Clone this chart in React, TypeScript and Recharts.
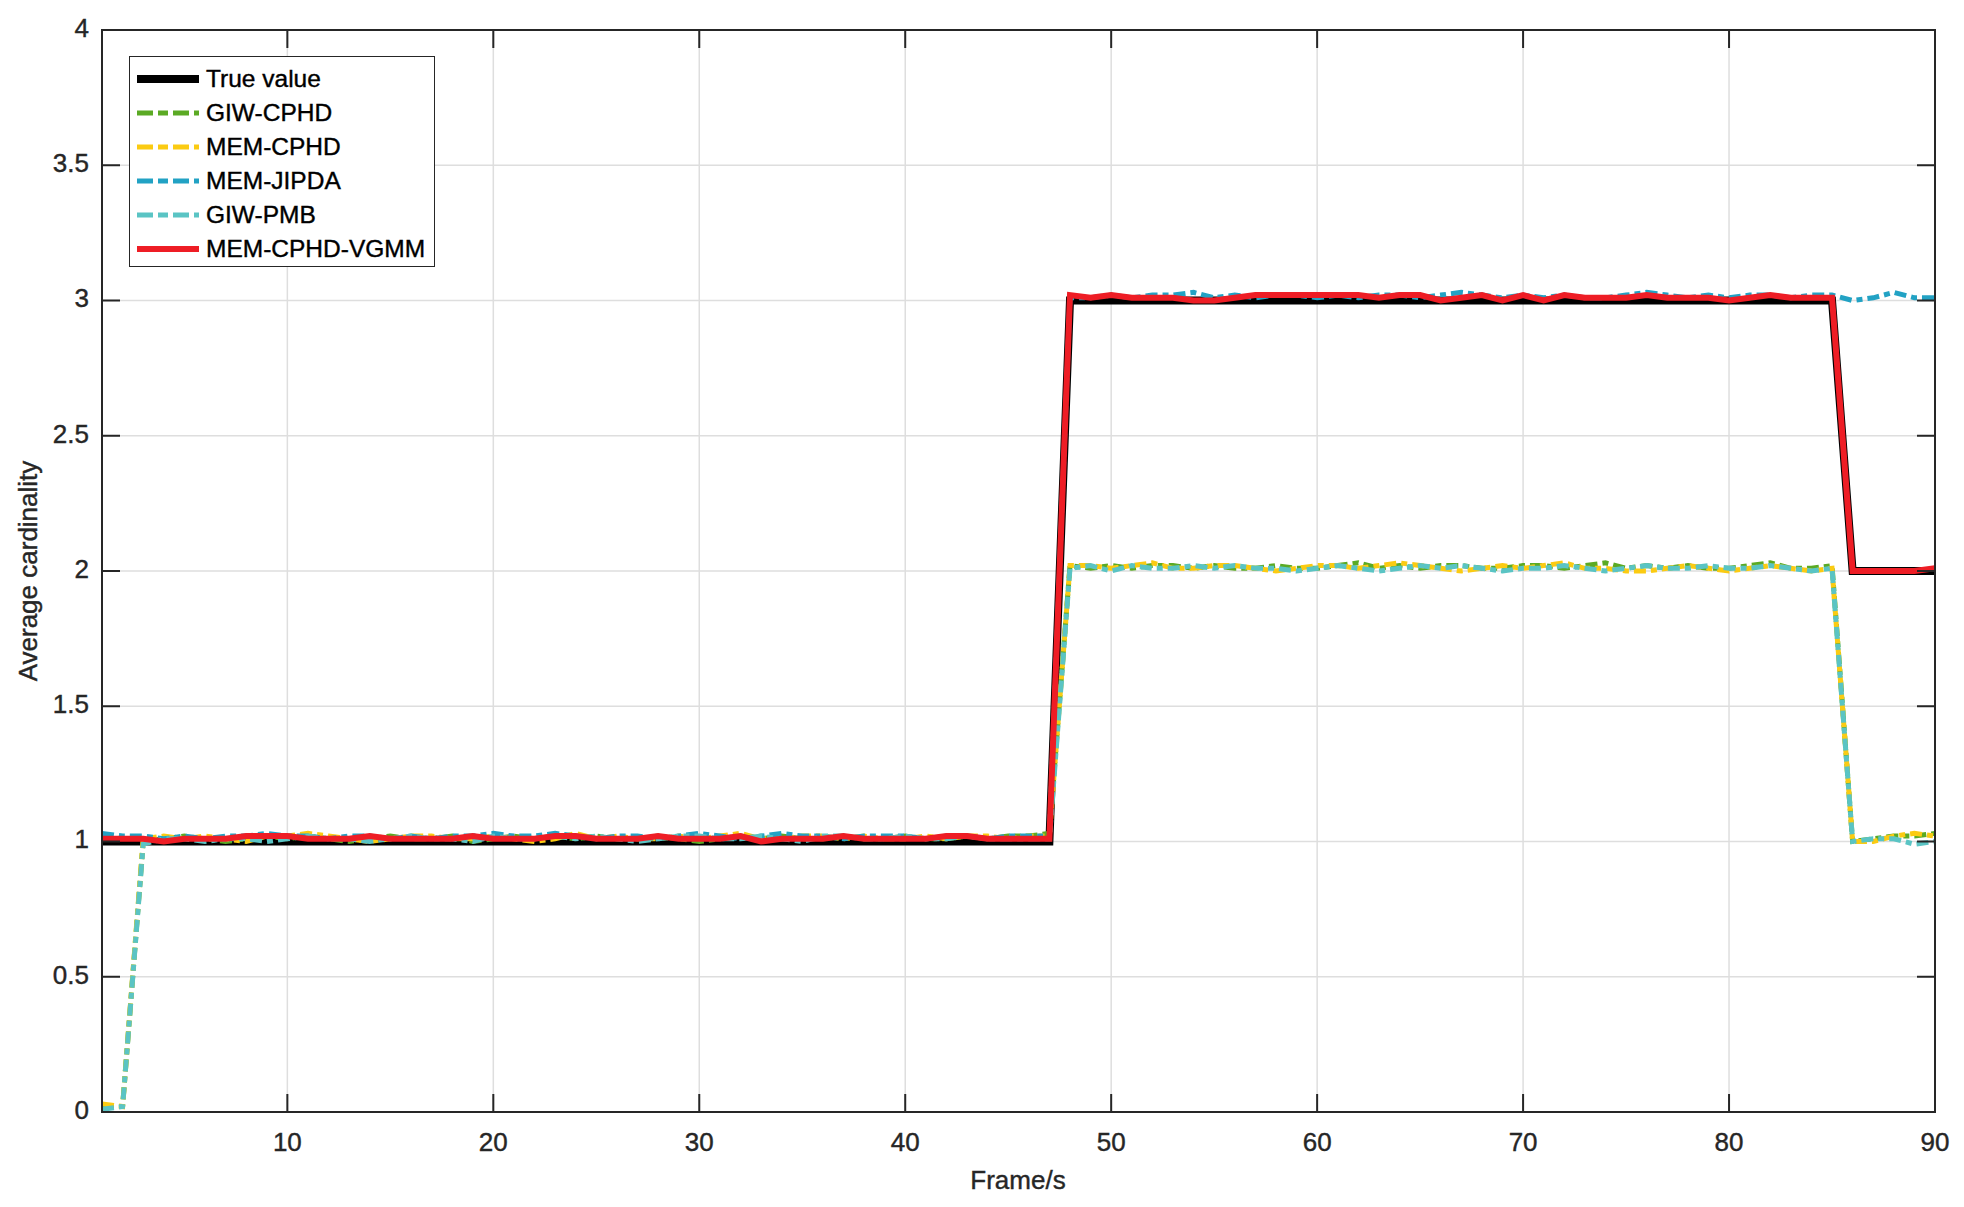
import React from "react";
import { LineChart, Line, XAxis, YAxis, CartesianGrid } from "recharts";

const FRAMES = [
  1, 2, 3, 4, 5, 6, 7, 8, 9, 10,
  11, 12, 13, 14, 15, 16, 17, 18, 19, 20,
  21, 22, 23, 24, 25, 26, 27, 28, 29, 30,
  31, 32, 33, 34, 35, 36, 37, 38, 39, 40,
  41, 42, 43, 44, 45, 46, 47, 48, 49, 50,
  51, 52, 53, 54, 55, 56, 57, 58, 59, 60,
  61, 62, 63, 64, 65, 66, 67, 68, 69, 70,
  71, 72, 73, 74, 75, 76, 77, 78, 79, 80,
  81, 82, 83, 84, 85, 86, 87, 88, 89, 90,
];

const TRUE_VALUE = [
  1, 1, 1, 1, 1, 1, 1, 1, 1, 1,
  1, 1, 1, 1, 1, 1, 1, 1, 1, 1,
  1, 1, 1, 1, 1, 1, 1, 1, 1, 1,
  1, 1, 1, 1, 1, 1, 1, 1, 1, 1,
  1, 1, 1, 1, 1, 1, 1, 3, 3, 3,
  3, 3, 3, 3, 3, 3, 3, 3, 3, 3,
  3, 3, 3, 3, 3, 3, 3, 3, 3, 3,
  3, 3, 3, 3, 3, 3, 3, 3, 3, 3,
  3, 3, 3, 3, 3, 2, 2, 2, 2, 2,
];

const GIW_CPHD = [
  0.02, 0.02, 1.0, 1.01, 1.02, 1.01, 1.0, 1.01, 1.02, 1.01,
  1.02, 1.01, 1.0, 1.01, 1.02, 1.01, 1.01, 1.02, 1.0, 1.01,
  1.02, 1.01, 1.02, 1.01, 1.02, 1.01, 1.01, 1.02, 1.01, 1.0,
  1.01, 1.02, 1.01, 1.02, 1.01, 1.01, 1.02, 1.01, 1.01, 1.02,
  1.01, 1.01, 1.02, 1.01, 1.02, 1.02, 1.03, 2.02, 2.01, 2.02,
  2.01, 2.02, 2.02, 2.01, 2.02, 2.01, 2.01, 2.02, 2.01, 2.01,
  2.02, 2.03, 2.01, 2.02, 2.01, 2.02, 2.02, 2.01, 2.01, 2.02,
  2.02, 2.01, 2.02, 2.03, 2.01, 2.02, 2.01, 2.02, 2.01, 2.01,
  2.02, 2.03, 2.01, 2.01, 2.02, 1.0, 1.01, 1.02, 1.02, 1.03,
];

const MEM_CPHD = [
  0.03, 0.02, 1.01, 1.02, 1.01, 1.02, 1.01, 1.0, 1.02, 1.02,
  1.03, 1.02, 1.01, 1.0, 1.01, 1.02, 1.02, 1.01, 1.01, 1.02,
  1.01, 1.0, 1.01, 1.03, 1.01, 1.02, 1.01, 1.01, 1.02, 1.01,
  1.02, 1.03, 1.01, 1.01, 1.02, 1.02, 1.01, 1.02, 1.01, 1.01,
  1.02, 1.01, 1.02, 1.02, 1.01, 1.02, 1.02, 2.02, 2.02, 2.01,
  2.02, 2.03, 2.01, 2.01, 2.02, 2.02, 2.01, 2.0, 2.01, 2.02,
  2.02, 2.01, 2.02, 2.03, 2.02, 2.01, 2.0, 2.01, 2.02, 2.01,
  2.02, 2.03, 2.01, 2.01, 2.0, 2.0, 2.01, 2.02, 2.01, 2.0,
  2.01, 2.02, 2.01, 2.0, 2.01, 1.0, 1.0, 1.02, 1.03, 1.02,
];

const MEM_JIPDA = [
  1.03, 1.02, 1.02, 1.01, 1.02, 1.01, 1.02, 1.02, 1.03, 1.02,
  1.02, 1.01, 1.02, 1.02, 1.01, 1.02, 1.01, 1.02, 1.02, 1.03,
  1.02, 1.02, 1.03, 1.02, 1.01, 1.02, 1.02, 1.01, 1.02, 1.03,
  1.02, 1.01, 1.02, 1.03, 1.02, 1.02, 1.01, 1.02, 1.02, 1.02,
  1.01, 1.02, 1.02, 1.01, 1.02, 1.02, 1.02, 3.01, 3.01, 3.02,
  3.01, 3.02, 3.02, 3.03, 3.01, 3.02, 3.01, 3.02, 3.02, 3.01,
  3.02, 3.01, 3.02, 3.02, 3.01, 3.02, 3.03, 3.02, 3.01, 3.02,
  3.01, 3.02, 3.01, 3.01, 3.02, 3.03, 3.02, 3.01, 3.02, 3.01,
  3.02, 3.02, 3.01, 3.02, 3.02, 3.0, 3.01, 3.03, 3.01, 3.01,
];

const GIW_PMB = [
  0.01, 0.02, 0.99, 1.01, 1.01, 1.0, 1.01, 1.01, 1.0, 1.01,
  1.02, 1.01, 1.01, 1.0, 1.01, 1.02, 1.01, 1.01, 1.0, 1.02,
  1.01, 1.01, 1.02, 1.01, 1.02, 1.01, 1.0, 1.01, 1.02, 1.02,
  1.01, 1.01, 1.02, 1.01, 1.0, 1.02, 1.02, 1.01, 1.01, 1.02,
  1.01, 1.01, 1.02, 1.01, 1.01, 1.01, 1.01, 2.01, 2.02, 2.0,
  2.02, 2.01, 2.01, 2.02, 2.01, 2.02, 2.01, 2.01, 2.0, 2.01,
  2.02, 2.01, 2.0, 2.01, 2.02, 2.01, 2.02, 2.01, 2.0, 2.01,
  2.01, 2.02, 2.01, 2.0, 2.01, 2.02, 2.01, 2.01, 2.02, 2.01,
  2.01, 2.02, 2.01, 2.0, 2.01, 1.0, 1.01, 1.01, 0.99, 1.0,
];

const MEM_CPHD_VGMM = [
  1.01, 1.01, 1.01, 1.0, 1.01, 1.01, 1.01, 1.02, 1.02, 1.02,
  1.01, 1.01, 1.01, 1.02, 1.01, 1.01, 1.01, 1.01, 1.02, 1.01,
  1.01, 1.01, 1.02, 1.02, 1.01, 1.01, 1.01, 1.02, 1.01, 1.01,
  1.01, 1.02, 1.0, 1.01, 1.01, 1.01, 1.02, 1.01, 1.01, 1.01,
  1.01, 1.02, 1.02, 1.01, 1.01, 1.01, 1.01, 3.02, 3.01, 3.02,
  3.01, 3.01, 3.01, 3.0, 3.0, 3.01, 3.02, 3.02, 3.02, 3.02,
  3.02, 3.02, 3.01, 3.02, 3.02, 3.0, 3.01, 3.02, 3.0, 3.02,
  3.0, 3.02, 3.01, 3.01, 3.01, 3.02, 3.01, 3.01, 3.01, 3.0,
  3.01, 3.02, 3.01, 3.01, 3.01, 2.0, 2.0, 2.0, 2.0, 2.01,
];

const X_TICKS = [10, 20, 30, 40, 50, 60, 70, 80, 90];
const Y_TICKS = [0, 0.5, 1, 1.5, 2, 2.5, 3, 3.5, 4];

const data = FRAMES.map((f, i) => ({
  frame: f,
  truth: TRUE_VALUE[i],
  giwCphd: GIW_CPHD[i],
  memCphd: MEM_CPHD[i],
  jipda: MEM_JIPDA[i],
  pmb: GIW_PMB[i],
  vgmm: MEM_CPHD_VGMM[i],
}));

const W = 1964;
const H = 1207;
const PLOT = { left: 102, top: 30, right: 1935, bottom: 1112 };
const FONT = "'Liberation Sans', Arial, Helvetica, sans-serif";
const AXIS = "#262626";
const DASH = "12 5 6 5";
const TICK_LEN = 18;

const SERIES = [
  { key: "truth", name: "True value", color: "#000000", width: 8, dash: undefined },
  { key: "giwCphd", name: "GIW-CPHD", color: "#5BAA24", width: 5, dash: DASH },
  { key: "memCphd", name: "MEM-CPHD", color: "#FBCB12", width: 5, dash: DASH },
  { key: "jipda", name: "MEM-JIPDA", color: "#22A2C4", width: 5, dash: DASH },
  { key: "pmb", name: "GIW-PMB", color: "#5AC4C4", width: 5, dash: DASH },
  { key: "vgmm", name: "MEM-CPHD-VGMM", color: "#EE1D25", width: 6, dash: undefined },
];

// inward ticks on bottom + top edge, label below
const XTick = ({ x, y, payload }: any) => (
  <g>
    <line x1={x} x2={x} y1={y} y2={y - TICK_LEN} stroke={AXIS} strokeWidth={2} />
    <line x1={x} x2={x} y1={PLOT.top} y2={PLOT.top + TICK_LEN} stroke={AXIS} strokeWidth={2} />
    <text x={x} y={y + 32} textAnchor="middle" dominantBaseline="middle"
      fontFamily={FONT} fontSize={26} fill={AXIS} stroke={AXIS} strokeWidth={0.4}>{payload.value}</text>
  </g>
);

// inward ticks on left + right edge, label to the left
const YTick = ({ x, y, payload }: any) => (
  <g>
    <line x1={x} x2={x + TICK_LEN} y1={y} y2={y} stroke={AXIS} strokeWidth={2} />
    <line x1={PLOT.right} x2={PLOT.right - TICK_LEN} y1={y} y2={y} stroke={AXIS} strokeWidth={2} />
    <text x={x - 13} y={y} textAnchor="end" dominantBaseline="middle"
      fontFamily={FONT} fontSize={26} fill={AXIS} stroke={AXIS} strokeWidth={0.4}>{payload.value}</text>
  </g>
);

export default function App() {
  return (
    <div style={{ position: "absolute", left: 0, top: 0, width: W, height: H, background: "#fff" }}>
      <LineChart width={W} height={H} data={data}
        margin={{ top: PLOT.top, right: W - PLOT.right, bottom: 0, left: 0 }}>
        <CartesianGrid stroke="#dedede" strokeWidth={1.5} />
        <XAxis dataKey="frame" type="number" domain={[1, 90]} ticks={X_TICKS} interval={0}
          height={H - PLOT.bottom} tickSize={0} tickMargin={0} tickLine={false} axisLine={false}
          tick={<XTick />} />
        <YAxis type="number" domain={[0, 4]} ticks={Y_TICKS} interval={0} width={PLOT.left}
          tickSize={0} tickMargin={0} tickLine={false} axisLine={false} allowDataOverflow
          tick={<YTick />} />
        {SERIES.map((s) => (
          <Line key={s.key} dataKey={s.key} stroke={s.color} strokeWidth={s.width}
            strokeDasharray={s.dash} dot={false} activeDot={false} isAnimationActive={false} />
        ))}
      </LineChart>

      {/* axes box */}
      <div style={{ position: "absolute", left: PLOT.left - 1, top: PLOT.top - 1,
        width: PLOT.right - PLOT.left + 2, height: PLOT.bottom - PLOT.top + 2,
        boxSizing: "border-box", border: `2px solid ${AXIS}`, pointerEvents: "none" }} />

      {/* axis titles */}
      <div style={{ position: "absolute", left: 1018, top: 1180, transform: "translate(-50%, -50%)",
        fontFamily: FONT, fontSize: 26, color: AXIS, whiteSpace: "nowrap",
        WebkitTextStroke: `0.4px ${AXIS}` }}>Frame/s</div>
      <div style={{ position: "absolute", left: 28, top: 571, transform: "translate(-50%, -50%) rotate(-90deg)",
        fontFamily: FONT, fontSize: 26, color: AXIS, whiteSpace: "nowrap",
        WebkitTextStroke: `0.4px ${AXIS}` }}>Average cardinality</div>

      {/* legend */}
      <div style={{ position: "absolute", left: 129, top: 56, width: 306, height: 211, boxSizing: "border-box",
        border: `1.5px solid ${AXIS}`, background: "#fff", paddingTop: 5 }}>
        {SERIES.map((s) => (
          <div key={s.key} style={{ display: "flex", alignItems: "center", height: 34 }}>
            <svg width={62} height={10} style={{ marginLeft: 7, marginRight: 7 }}>
              <line x1={0} x2={62} y1={5} y2={5} stroke={s.color} strokeWidth={s.width}
                strokeDasharray={s.dash ? "16 5 10 5" : undefined} />
            </svg>
            <span style={{ fontFamily: FONT, fontSize: 24.5, color: "#000", whiteSpace: "nowrap",
              WebkitTextStroke: "0.4px #000" }}>{s.name}</span>
          </div>
        ))}
      </div>
    </div>
  );
}
